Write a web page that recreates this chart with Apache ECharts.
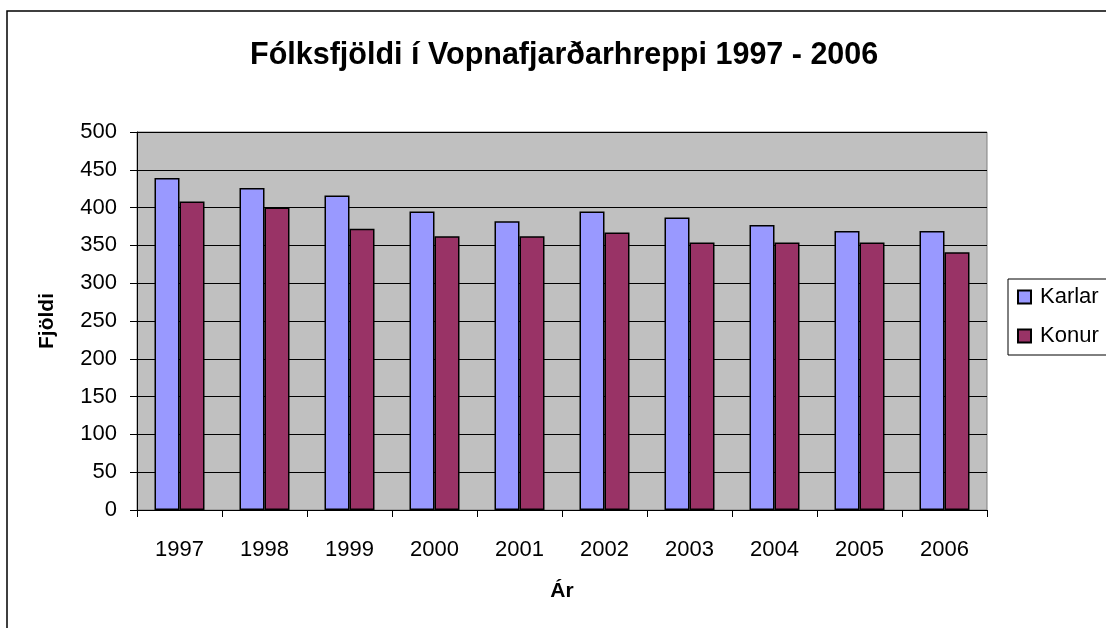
<!DOCTYPE html>
<html>
<head>
<meta charset="utf-8">
<script src="https://cdn.jsdelivr.net/npm/echarts@6/dist/echarts.min.js"></script>
<style>
  html, body { margin: 0; padding: 0; background: #fff; }
  #chart { width: 1106px; height: 628px; }
</style>
</head>
<body>
<div id="chart"></div>
<script>
var years = ['1997', '1998', '1999', '2000', '2001', '2002', '2003', '2004', '2005', '2006'];
var karlar = [439, 426, 416, 395, 382, 395, 387, 377, 369, 369];
var konur = [408, 400, 372, 362, 362, 367, 354, 354, 354, 341];

var font = 'Liberation Sans, Arial, sans-serif';

var option = {
    animation: false,
    textStyle: { fontFamily: font },
    graphic: [{
        type: 'rect',
        shape: { x: 7, y: 11, width: 1200, height: 700 },
        style: { fill: 'none', stroke: '#000', lineWidth: 1.5 },
        z: -10
    }],
    title: {
        text: 'Fólksfjöldi í Vopnafjarðarhreppi 1997 - 2006',
        left: 245,
        top: 35,
        textStyle: { fontSize: 30.5, fontWeight: 'bold', color: '#000', fontFamily: font }
    },
    legend: {
        orient: 'vertical',
        left: 1008,
        top: 279,
        padding: [7, 30, 8, 9],
        itemGap: 17,
        itemWidth: 13,
        itemHeight: 13,
        icon: 'rect',
        borderColor: '#000',
        borderWidth: 1,
        backgroundColor: '#fff',
        textStyle: { fontSize: 22, color: '#000', fontFamily: font, padding: [0, 0, 0, 4] },
        data: ['Karlar', 'Konur']
    },
    grid: {
        left: 137, right: 119, top: 132, bottom: 118,
        show: true,
        backgroundColor: '#C0C0C0',
        borderColor: '#808080',
        borderWidth: 1
    },
    xAxis: {
        type: 'category',
        data: years,
        name: 'Ár',
        nameLocation: 'middle',
        nameGap: 71,
        nameMoveOverlap: false,
        nameTextStyle: { fontSize: 21, fontWeight: 'bold', color: '#000' },
        axisLine: { lineStyle: { color: '#000', width: 1 } },
        axisTick: { show: true, length: 7, lineStyle: { color: '#000' } },
        axisLabel: { fontSize: 22, color: '#000', margin: 29 }
    },
    yAxis: {
        type: 'value',
        min: 0,
        max: 500,
        interval: 50,
        name: 'Fjöldi',
        nameLocation: 'middle',
        nameGap: 79,
        nameMoveOverlap: false,
        nameRotate: 90,
        nameTextStyle: { fontSize: 21, fontWeight: 'bold', color: '#000' },
        axisLine: { show: true, lineStyle: { color: '#000', width: 1 } },
        axisTick: { show: true, length: 7, lineStyle: { color: '#000' } },
        axisLabel: { fontSize: 22, color: '#000', margin: 20 },
        splitLine: { lineStyle: { color: '#000', width: 1 } }
    },
    series: [{
        name: 'Karlar',
        type: 'bar',
        data: karlar,
        barWidth: 25,
        barGap: '0%',
        itemStyle: { color: '#9999FF', borderColor: '#000', borderWidth: 1.5 }
    }, {
        name: 'Konur',
        type: 'bar',
        data: konur,
        barWidth: 25,
        barGap: '0%',
        itemStyle: { color: '#993366', borderColor: '#000', borderWidth: 1.5 }
    }]
};

echarts.init(document.getElementById('chart')).setOption(option);
</script>
</body>
</html>
